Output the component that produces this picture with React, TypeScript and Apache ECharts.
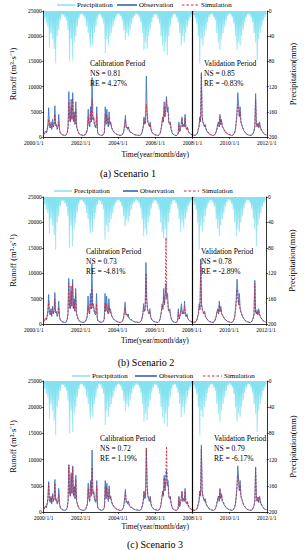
import React, { useEffect, useRef } from "react";
import * as echarts from "echarts";

const FONT = "'Liberation Serif', 'Times New Roman', Times, serif";

// ---------- data ----------
const years = [2000, 2001, 2002, 2003, 2004, 2005, 2006, 2007, 2008, 2009, 2010, 2011];
const xTickLabels = ["2000/1/1", "2002/1/1", "2004/1/1", "2006/1/1", "2008/1/1", "2010/1/1", "2012/1/1"];
const runoffTicks = [0, 5000, 10000, 15000, 20000, 25000];
const precipTicks = [0, 40, 80, 120, 160, 200];
const legendNames = ["Precipitation", "Observation", "Simulation"];
const splitYear = 2008;

// precipitation (mm), half-monthly values per year
const precip2000 = [5, 12, 4, 20, 6, 25, 10, 58, 14, 35, 12, 45, 16, 60, 18, 83, 12, 40, 10, 30, 6, 15, 4, 6];
const precip2001 = [3, 6, 4, 10, 5, 15, 8, 30, 12, 80, 14, 45, 16, 78, 12, 50, 14, 40, 10, 25, 6, 12, 4, 5];
const precip2002 = [3, 5, 3, 8, 5, 12, 7, 25, 10, 35, 12, 45, 57, 16, 40, 55, 12, 35, 10, 25, 6, 12, 4, 5];
const precip2003 = [4, 6, 5, 12, 6, 20, 10, 67, 14, 45, 16, 55, 12, 40, 14, 35, 10, 25, 8, 15, 5, 10, 3, 5];
const precip2004 = [3, 5, 4, 8, 5, 15, 8, 30, 12, 46, 14, 35, 12, 40, 10, 30, 8, 20, 6, 12, 4, 8, 3, 4];
const precip2005 = [3, 6, 4, 10, 6, 18, 10, 35, 14, 62, 16, 50, 18, 60, 14, 40, 12, 30, 8, 18, 5, 10, 3, 5];
const precip2006 = [4, 6, 5, 12, 6, 20, 10, 40, 14, 55, 16, 65, 18, 50, 20, 70, 14, 40, 10, 25, 6, 12, 4, 6];
const precip2007 = [3, 5, 4, 10, 6, 18, 8, 35, 12, 55, 14, 40, 16, 50, 12, 35, 10, 25, 8, 15, 5, 10, 3, 5];
const precip2008 = [4, 6, 5, 12, 6, 20, 10, 40, 16, 83, 14, 45, 16, 55, 12, 40, 10, 30, 8, 18, 5, 10, 4, 5];
const precip2009 = [3, 5, 4, 10, 5, 15, 8, 35, 12, 50, 14, 62, 16, 45, 12, 35, 10, 25, 6, 15, 4, 8, 3, 4];
const precip2010 = [3, 6, 4, 10, 6, 20, 10, 40, 14, 62, 16, 50, 18, 55, 14, 40, 12, 30, 8, 18, 5, 10, 3, 5];
const precip2011 = [3, 5, 4, 10, 6, 18, 8, 35, 12, 50, 14, 78, 16, 45, 12, 35, 10, 25, 8, 15, 5, 10, 3, 5];

// observed runoff (m3/s), half-monthly values per year
const obs2000 = [600, 900, 1200, 800, 1500, 2500, 5800, 2000, 1800, 3000, 1500, 3500, 2000, 2500, 6200, 2200, 2500, 1500, 2000, 4500, 1500, 800, 600, 500];
const obs2001 = [400, 350, 350, 300, 350, 500, 900, 2000, 9000, 3500, 3000, 7500, 3500, 8800, 3000, 5000, 2500, 7000, 2000, 1500, 1000, 700, 500, 450];
const obs2002 = [400, 350, 300, 300, 350, 400, 600, 1000, 1500, 5500, 2500, 2000, 6000, 3000, 11800, 3500, 4000, 2500, 2000, 1800, 6000, 1000, 600, 500];
const obs2003 = [400, 350, 300, 300, 400, 600, 1000, 6000, 2500, 5500, 3000, 2000, 5000, 2500, 3000, 2000, 1500, 1200, 1000, 800, 700, 600, 500, 450];
const obs2004 = [400, 350, 300, 300, 350, 450, 700, 1200, 2500, 4300, 1800, 2000, 1500, 2000, 1200, 1000, 800, 900, 700, 600, 500, 450, 400, 380];
const obs2005 = [380, 350, 300, 300, 350, 450, 700, 1200, 2000, 4000, 2500, 3000, 12100, 5000, 3000, 2500, 2000, 3000, 1500, 1000, 800, 600, 500, 450];
const obs2006 = [400, 350, 300, 300, 350, 500, 800, 1500, 2500, 4000, 3000, 7000, 4000, 5500, 8000, 5000, 6000, 3000, 2500, 3000, 1500, 1000, 600, 500];
const obs2007 = [400, 350, 300, 300, 400, 600, 3000, 1000, 1500, 2500, 4000, 2000, 2500, 2000, 4500, 1800, 1500, 2000, 1200, 900, 700, 600, 500, 450];
const obs2008 = [400, 350, 300, 350, 400, 500, 800, 1500, 2000, 4000, 3000, 12800, 4000, 3000, 2500, 2000, 2500, 1500, 1200, 1000, 800, 600, 500, 450];
const obs2009 = [400, 350, 300, 300, 400, 600, 1000, 1500, 2500, 3000, 2000, 4500, 2500, 3500, 2000, 1800, 1500, 1200, 1000, 800, 700, 600, 500, 450];
const obs2010 = [400, 350, 300, 300, 400, 600, 900, 1500, 3000, 5000, 8800, 6500, 4000, 6000, 3000, 2500, 2000, 1500, 1200, 1000, 800, 600, 500, 450];
const obs2011 = [400, 350, 300, 300, 350, 500, 800, 1200, 2000, 8600, 2500, 2000, 2800, 1800, 3000, 2000, 1500, 1200, 1000, 800, 600, 500, 450, 400];

// simulated runoff, scenario 1
const sim1_2000 = [500, 700, 900, 800, 1200, 2000, 3500, 2200, 1800, 2500, 1800, 2800, 2000, 2400, 4500, 2300, 2200, 1600, 1800, 3000, 1500, 900, 700, 550];
const sim1_2001 = [450, 400, 380, 350, 380, 500, 800, 1800, 7000, 3500, 3000, 6000, 3500, 7500, 3200, 4500, 2600, 5500, 2200, 1600, 1100, 800, 600, 500];
const sim1_2002 = [450, 400, 350, 340, 380, 450, 650, 1000, 1600, 4000, 2600, 2200, 5000, 3000, 7500, 3500, 3800, 2600, 2200, 1900, 4500, 1100, 700, 550];
const sim1_2003 = [450, 400, 350, 340, 420, 650, 1100, 4500, 2600, 4500, 3000, 2200, 4000, 2500, 2800, 2000, 1600, 1300, 1100, 900, 750, 650, 550, 480];
const sim1_2004 = [430, 380, 340, 330, 380, 480, 750, 1300, 2300, 3500, 1900, 2000, 1600, 1900, 1300, 1100, 900, 900, 750, 650, 550, 480, 430, 400];
const sim1_2005 = [400, 370, 330, 320, 370, 480, 750, 1300, 2100, 3500, 2600, 2900, 6500, 4500, 3000, 2500, 2100, 2600, 1600, 1100, 850, 650, 550, 480];
const sim1_2006 = [420, 380, 330, 330, 380, 530, 850, 1600, 2600, 3800, 3100, 6000, 4000, 5500, 7500, 5000, 5000, 3000, 2500, 2600, 1600, 1100, 650, 530];
const sim1_2007 = [420, 380, 330, 330, 420, 650, 2500, 1100, 1600, 2600, 3500, 2100, 2500, 2100, 3800, 1900, 1600, 1900, 1300, 950, 750, 650, 530, 480];
const sim1_2008 = [420, 380, 330, 370, 420, 530, 850, 1600, 2100, 3800, 3000, 12500, 4000, 3000, 2500, 2100, 2400, 1600, 1300, 1050, 850, 650, 530, 480];
const sim1_2009 = [420, 380, 330, 330, 420, 650, 1050, 1600, 2500, 2900, 2100, 4000, 2500, 3200, 2100, 1900, 1600, 1300, 1050, 850, 750, 650, 530, 480];
const sim1_2010 = [420, 380, 330, 330, 420, 650, 950, 1600, 2900, 4500, 6500, 5500, 4000, 5000, 3000, 2500, 2100, 1600, 1300, 1050, 850, 650, 530, 480];
const sim1_2011 = [420, 380, 330, 330, 380, 530, 850, 1300, 2100, 7500, 2500, 2100, 2700, 1900, 2800, 2100, 1600, 1300, 1050, 850, 650, 530, 480, 430];

// simulated runoff, scenario 2
const sim2_2000 = [500, 700, 1000, 900, 1400, 2500, 4500, 2300, 1900, 2600, 1800, 3000, 2000, 2500, 5000, 2300, 2200, 1600, 1800, 3300, 1500, 900, 700, 550];
const sim2_2001 = [450, 400, 380, 350, 380, 500, 900, 2000, 8000, 3500, 3000, 6500, 3500, 8000, 3200, 4500, 2600, 6000, 2200, 1600, 1100, 800, 600, 500];
const sim2_2002 = [450, 400, 350, 340, 380, 450, 650, 1000, 1600, 3500, 2400, 2000, 4500, 2800, 7000, 3200, 3500, 2400, 2000, 1800, 4000, 1000, 650, 520];
const sim2_2003 = [450, 400, 350, 340, 420, 650, 1000, 4000, 2400, 4000, 2800, 2000, 3600, 2300, 2600, 1900, 1500, 1200, 1000, 850, 700, 600, 520, 460];
const sim2_2004 = [420, 380, 340, 330, 380, 480, 700, 1200, 2100, 3200, 1800, 1900, 1500, 1800, 1200, 1000, 850, 850, 700, 600, 520, 460, 420, 390];
const sim2_2005 = [390, 360, 330, 320, 360, 470, 700, 1200, 2000, 3300, 2400, 2800, 10000, 4300, 2800, 2300, 2000, 2400, 1500, 1000, 800, 620, 520, 460];
const sim2_2006 = [420, 380, 330, 330, 380, 520, 800, 1500, 2400, 3500, 2900, 5500, 3800, 6000, 17000, 5000, 4500, 2800, 2300, 2400, 1500, 1000, 620, 500];
const sim2_2007 = [410, 370, 330, 330, 410, 620, 2300, 1000, 1500, 2400, 3200, 2000, 2300, 2000, 3500, 1800, 1500, 1800, 1200, 900, 720, 620, 500, 460];
const sim2_2008 = [410, 370, 330, 360, 410, 500, 800, 1500, 2000, 3500, 2800, 12500, 3800, 2800, 2300, 2000, 2300, 1500, 1200, 1000, 800, 620, 500, 460];
const sim2_2009 = [410, 370, 330, 330, 410, 620, 1000, 1500, 2300, 2700, 2000, 3700, 2300, 3000, 2000, 1800, 1500, 1200, 1000, 800, 720, 620, 500, 460];
const sim2_2010 = [410, 370, 330, 330, 410, 620, 900, 1500, 2700, 4200, 6800, 5000, 3800, 4500, 2800, 2300, 2000, 1500, 1200, 1000, 800, 620, 500, 460];
const sim2_2011 = [410, 370, 330, 330, 370, 500, 800, 1200, 2000, 8000, 2300, 2000, 2500, 1800, 2600, 2000, 1500, 1200, 1000, 800, 620, 500, 460, 420];

// simulated runoff, scenario 3
const sim3_2000 = [550, 800, 1100, 900, 1500, 2600, 5500, 2400, 2000, 2800, 1900, 3200, 2100, 2600, 5500, 2400, 2300, 1700, 1900, 3500, 1600, 950, 720, 560];
const sim3_2001 = [460, 410, 380, 350, 380, 520, 950, 2200, 9000, 3600, 3100, 7000, 3600, 8500, 3300, 4700, 2700, 6200, 2300, 1700, 1150, 820, 610, 510];
const sim3_2002 = [460, 410, 360, 340, 380, 460, 680, 1050, 1700, 4500, 2700, 2300, 5500, 3100, 8500, 3600, 3900, 2700, 2300, 2000, 5000, 1150, 720, 560];
const sim3_2003 = [460, 410, 360, 340, 430, 670, 1150, 5000, 2700, 4800, 3100, 2300, 4300, 2600, 2900, 2100, 1700, 1350, 1150, 950, 780, 670, 560, 490];
const sim3_2004 = [440, 390, 350, 330, 390, 490, 780, 1350, 2400, 3800, 2000, 2100, 1700, 2000, 1350, 1150, 950, 950, 780, 670, 560, 490, 440, 410];
const sim3_2005 = [410, 380, 340, 330, 380, 490, 780, 1350, 2200, 3800, 2700, 3000, 12200, 4800, 3100, 2600, 2200, 2700, 1700, 1150, 880, 670, 560, 490];
const sim3_2006 = [430, 390, 340, 340, 390, 550, 880, 1700, 2700, 4000, 3200, 6500, 4200, 6000, 12500, 5200, 5200, 3100, 2600, 2700, 1700, 1150, 670, 550];
const sim3_2007 = [430, 390, 340, 340, 430, 670, 2700, 1150, 1700, 2700, 3800, 2200, 2600, 2200, 4000, 2000, 1700, 2000, 1350, 1000, 780, 670, 550, 490];
const sim3_2008 = [430, 390, 340, 380, 430, 550, 880, 1700, 2200, 4000, 3100, 12000, 4200, 3100, 2600, 2200, 2500, 1700, 1350, 1100, 880, 670, 550, 490];
const sim3_2009 = [430, 390, 340, 340, 430, 670, 1100, 1700, 2600, 3000, 2200, 4200, 2600, 3300, 2200, 2000, 1700, 1350, 1100, 880, 780, 670, 550, 490];
const sim3_2010 = [430, 390, 340, 340, 430, 670, 1000, 1700, 3000, 4800, 7000, 5800, 4200, 5200, 3100, 2600, 2200, 1700, 1350, 1100, 880, 670, 550, 490];
const sim3_2011 = [430, 390, 340, 340, 390, 550, 880, 1350, 2200, 8500, 2600, 2200, 2800, 2000, 2900, 2200, 1700, 1350, 1100, 880, 670, 550, 490, 440];

const precipYears = [precip2000, precip2001, precip2002, precip2003, precip2004, precip2005, precip2006, precip2007, precip2008, precip2009, precip2010, precip2011];
const obsYears = [obs2000, obs2001, obs2002, obs2003, obs2004, obs2005, obs2006, obs2007, obs2008, obs2009, obs2010, obs2011];
const sim1Years = [sim1_2000, sim1_2001, sim1_2002, sim1_2003, sim1_2004, sim1_2005, sim1_2006, sim1_2007, sim1_2008, sim1_2009, sim1_2010, sim1_2011];
const sim2Years = [sim2_2000, sim2_2001, sim2_2002, sim2_2003, sim2_2004, sim2_2005, sim2_2006, sim2_2007, sim2_2008, sim2_2009, sim2_2010, sim2_2011];
const sim3Years = [sim3_2000, sim3_2001, sim3_2002, sim3_2003, sim3_2004, sim3_2005, sim3_2006, sim3_2007, sim3_2008, sim3_2009, sim3_2010, sim3_2011];

const captions = ["(a) Scenario 1", "(b) Scenario 2", "(c) Scenario 3"];
const calibNS = ["0.81", "0.73", "0.72"];
const calibRE = ["4.27%", "-4.81%", "1.19%"];
const validNS = ["0.85", "0.78", "0.79"];
const validRE = ["-0.83%", "-2.89%", "-6.17%"];

// ---------- layout ----------
const panels = [
  { left: 29, right: 267, top: 11, bottom: 137, legY: 5, legX: [[57, 75, 77], [117, 137, 139], [182, 199, 201]], xNameGap: 13, lNameGap: 17, rNameGap: 15, alignMin: "right", capX: 128, capY: 173, calX: 90, valX: 204, txtY: 63 },
  { left: 30, right: 266, top: 197, bottom: 324, legY: 191, legX: [[54, 72, 74], [123, 138, 140], [184, 199, 202]], xNameGap: 12, lNameGap: 18, rNameGap: 15, alignMin: "right", capX: 146, capY: 362, calX: 86, valX: 201, txtY: 251 },
  { left: 39, right: 280, top: 381, bottom: 512, legY: 376, legX: [[72, 90, 92], [135, 157, 159], [203, 222, 224]], xNameGap: 10, lNameGap: 19, rNameGap: 18, alignMin: "center", capX: 155, capY: 544, calX: 100, valX: 214, txtY: 438 },
];

const PCOL = "#86e2f0";
const OCOL = "#3b78c6";
const OLEG = "#2a5aa6";
const SCOL = "#d42a3c";

function toPoints(perYear: number[][]) {
  const pts: number[][] = [];
  perYear.forEach((arr, yi) => {
    arr.forEach((v, i) => {
      pts.push([years[yi] + (i + 0.5) / arr.length, v]);
    });
  });
  return pts;
}

export default function App() {
  const ref = useRef<HTMLDivElement>(null);
  useEffect(() => {
    if (!ref.current) return;
    const chart = echarts.init(ref.current, undefined, { renderer: "svg" });
    const precipPts = toPoints(precipYears);
    const obsPts = toPoints(obsYears);
    const simPts = [toPoints(sim1Years), toPoints(sim2Years), toPoints(sim3Years)];

    const grid: any[] = [];
    const xAxis: any[] = [];
    const yAxis: any[] = [];
    const series: any[] = [];
    const graphic: any[] = [];
    const axisTxt = { fontFamily: FONT, fontSize: 5.5, color: "#000" };
    const legStroke = [
      { stroke: PCOL, lineWidth: 1.5 },
      { stroke: OLEG, lineWidth: 1.5 },
      { stroke: SCOL, lineWidth: 1.2, lineDash: [2.5, 2] },
    ];

    panels.forEach((p, k) => {
      grid.push({ left: p.left, top: p.top, width: p.right - p.left, height: p.bottom - p.top, containLabel: false });
      xAxis.push({
        type: "value", gridIndex: k, min: 2000, max: 2012, interval: 2,
        name: "Time(year/month/day)", nameLocation: "middle", nameGap: p.xNameGap,
        nameTextStyle: { fontFamily: FONT, fontSize: 7.5, color: "#000" },
        axisLine: { show: true, onZero: false, lineStyle: { color: "#000", width: 0.8 } },
        axisTick: { show: true, length: 2, lineStyle: { color: "#000", width: 0.6 } },
        axisLabel: { ...axisTxt, margin: 3, alignMinLabel: p.alignMin, formatter: (v: number) => xTickLabels[Math.round((v - 2000) / 2)] },
        splitLine: { show: false },
      });
      yAxis.push({
        type: "value", gridIndex: k, position: "left", min: runoffTicks[0], max: runoffTicks[runoffTicks.length - 1], interval: 5000,
        name: "Runoff (m³·s⁻¹)", nameLocation: "middle", nameGap: p.lNameGap, nameRotate: 90,
        nameTextStyle: { fontFamily: FONT, fontSize: 8.5, color: "#000" },
        axisLine: { show: true, onZero: false, lineStyle: { color: "#000", width: 0.8 } },
        axisTick: { show: true, length: 2, lineStyle: { color: "#000", width: 0.6 } },
        axisLabel: { ...axisTxt, margin: 2, formatter: (v: number) => String(v) },
        splitLine: { show: false },
      });
      yAxis.push({
        type: "value", gridIndex: k, position: "right", inverse: true, min: precipTicks[0], max: precipTicks[precipTicks.length - 1], interval: 40,
        name: "Precipitation(mm)", nameLocation: "middle", nameGap: p.rNameGap, nameRotate: 90,
        nameTextStyle: { fontFamily: FONT, fontSize: 8.5, color: "#000" },
        axisLine: { show: true, onZero: false, lineStyle: { color: "#000", width: 0.8 } },
        axisTick: { show: true, length: 2, lineStyle: { color: "#000", width: 0.6 } },
        axisLabel: { ...axisTxt, margin: 2, formatter: (v: number) => String(v) },
        splitLine: { show: false },
        alignTicks: false,
      });
      series.push({
        name: legendNames[0], type: "line", xAxisIndex: k, yAxisIndex: 2 * k + 1, data: precipPts,
        symbol: "none", lineStyle: { color: PCOL, width: 0.5 }, itemStyle: { color: PCOL },
        areaStyle: { color: PCOL, opacity: 1 }, z: 1,
      });
      series.push({
        name: legendNames[1], type: "line", xAxisIndex: k, yAxisIndex: 2 * k, data: obsPts,
        symbol: "none", lineStyle: { color: OCOL, width: 0.9 }, itemStyle: { color: OCOL }, z: 2,
        markLine: {
          silent: true, symbol: ["none", "none"], label: { show: false },
          lineStyle: { color: "#000", width: 1.2, type: "solid" },
          data: [{ xAxis: splitYear }],
        },
      });
      series.push({
        name: legendNames[2], type: "line", xAxisIndex: k, yAxisIndex: 2 * k, data: simPts[k],
        symbol: "none", lineStyle: { color: SCOL, width: 0.9, type: [2, 1.5] }, itemStyle: { color: SCOL }, z: 3,
      });

      // legend (drawn manually: line sample + label)
      p.legX.forEach((lx, i) => {
        graphic.push({ type: "line", z: 10, shape: { x1: lx[0], y1: p.legY, x2: lx[1], y2: p.legY }, style: { ...legStroke[i] } });
        graphic.push({ type: "text", z: 10, x: lx[2], y: p.legY, style: { text: legendNames[i], fontFamily: FONT, fontSize: 7, fill: "#000", textVerticalAlign: "middle", verticalAlign: "middle" } });
      });

      const tStyle = { fontFamily: FONT, fontSize: 7.5, fill: "#000" };
      const lines = [
        { x: p.calX, y: p.txtY, t: "Calibration Period" },
        { x: p.calX, y: p.txtY + 10, t: "NS = " + calibNS[k] },
        { x: p.calX, y: p.txtY + 20, t: "RE = " + calibRE[k] },
        { x: p.valX, y: p.txtY, t: "Validation Period" },
        { x: p.valX, y: p.txtY + 10, t: "NS = " + validNS[k] },
        { x: p.valX, y: p.txtY + 20, t: "RE = " + validRE[k] },
      ];
      lines.forEach((l) => {
        graphic.push({ type: "text", x: l.x, y: l.y, z: 10, style: { ...tStyle, text: l.t, textVerticalAlign: "middle", verticalAlign: "middle" } });
      });
      graphic.push({
        type: "text", x: p.capX, y: p.capY, z: 10,
        style: { fontFamily: FONT, fontSize: 10, fill: "#000", text: captions[k], align: "center", verticalAlign: "middle", textAlign: "center", textVerticalAlign: "middle" },
      });
    });

    chart.setOption({
      animation: false,
      backgroundColor: "#fff",
      grid, xAxis, yAxis, series, graphic,
    });
    return () => chart.dispose();
  }, []);
  return <div ref={ref} style={{ position: "fixed", left: 0, top: 0, width: 305, height: 550, background: "#fff" }} />;
}
